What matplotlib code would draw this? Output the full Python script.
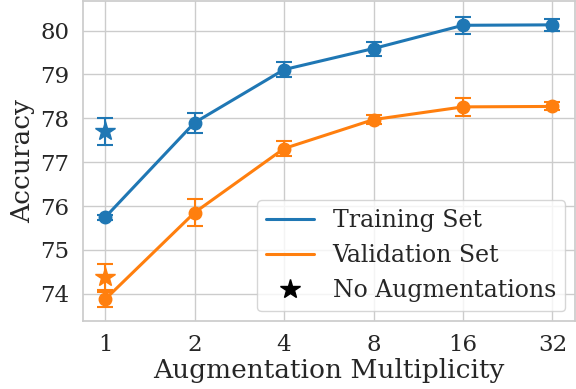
import numpy as np
import matplotlib
matplotlib.use("Agg")
import matplotlib.pyplot as plt
import seaborn as sns
from matplotlib.lines import Line2D

multiplicity = ["1", "2", "4", "8", "16", "32"]

train_acc = [75.74, 77.90, 79.11, 79.59, 80.12, 80.13]
train_err = [0.05, 0.23, 0.17, 0.16, 0.20, 0.13]

val_acc = [73.87, 75.85, 77.31, 77.97, 78.26, 78.27]
val_err = [0.17, 0.31, 0.17, 0.11, 0.21, 0.09]

# baseline without augmentations (multiplicity 1)
noaug_train, noaug_train_err = 77.70, 0.30
noaug_val, noaug_val_err = 74.38, 0.30

sns.set_theme(style="whitegrid")
plt.rcParams["font.family"] = ["DejaVu Serif"]

blue, orange = "#1f77b4", "#ff7f0e"

fig, ax = plt.subplots(figsize=(5.76, 3.89), dpi=100)
fig.subplots_adjust(left=0.1436, right=0.998, bottom=0.175, top=0.997)

x = np.arange(len(multiplicity))
err_kw = dict(capsize=6, elinewidth=1.5, capthick=1.5)

ax.errorbar(x, train_acc, yerr=train_err, color=blue, lw=2.2, marker="o",
            ms=9, **err_kw)
ax.errorbar(x, val_acc, yerr=val_err, color=orange, lw=2.2, marker="o",
            ms=9, **err_kw)
ax.errorbar([x[0]], [noaug_train], yerr=[noaug_train_err], color=blue,
            marker="*", ms=15, ls="none", **err_kw)
ax.errorbar([x[0]], [noaug_val], yerr=[noaug_val_err], color=orange,
            marker="*", ms=15, ls="none", **err_kw)

ax.set_xticks(x)
ax.set_xticklabels(multiplicity)
ax.set_xlim(-0.25, 5.25)
ax.set_ylim(73.38, 80.67)
ax.set_yticks([74, 75, 76, 77, 78, 79, 80])
ax.tick_params(labelsize=16.5)
ax.set_xlabel("Augmentation Multiplicity", fontsize=19, labelpad=1)
ax.set_ylabel("Accuracy", fontsize=19)

handles = [
    Line2D([], [], color=blue, lw=2.2),
    Line2D([], [], color=orange, lw=2.2),
    Line2D([], [], color="black", marker="*", ms=15, ls="none"),
]
ax.legend(handles, ["Training Set", "Validation Set", "No Augmentations"],
          loc="lower right", fontsize=17, framealpha=0.8,
          borderaxespad=0.4)

fig.savefig("out.png", dpi=100)
